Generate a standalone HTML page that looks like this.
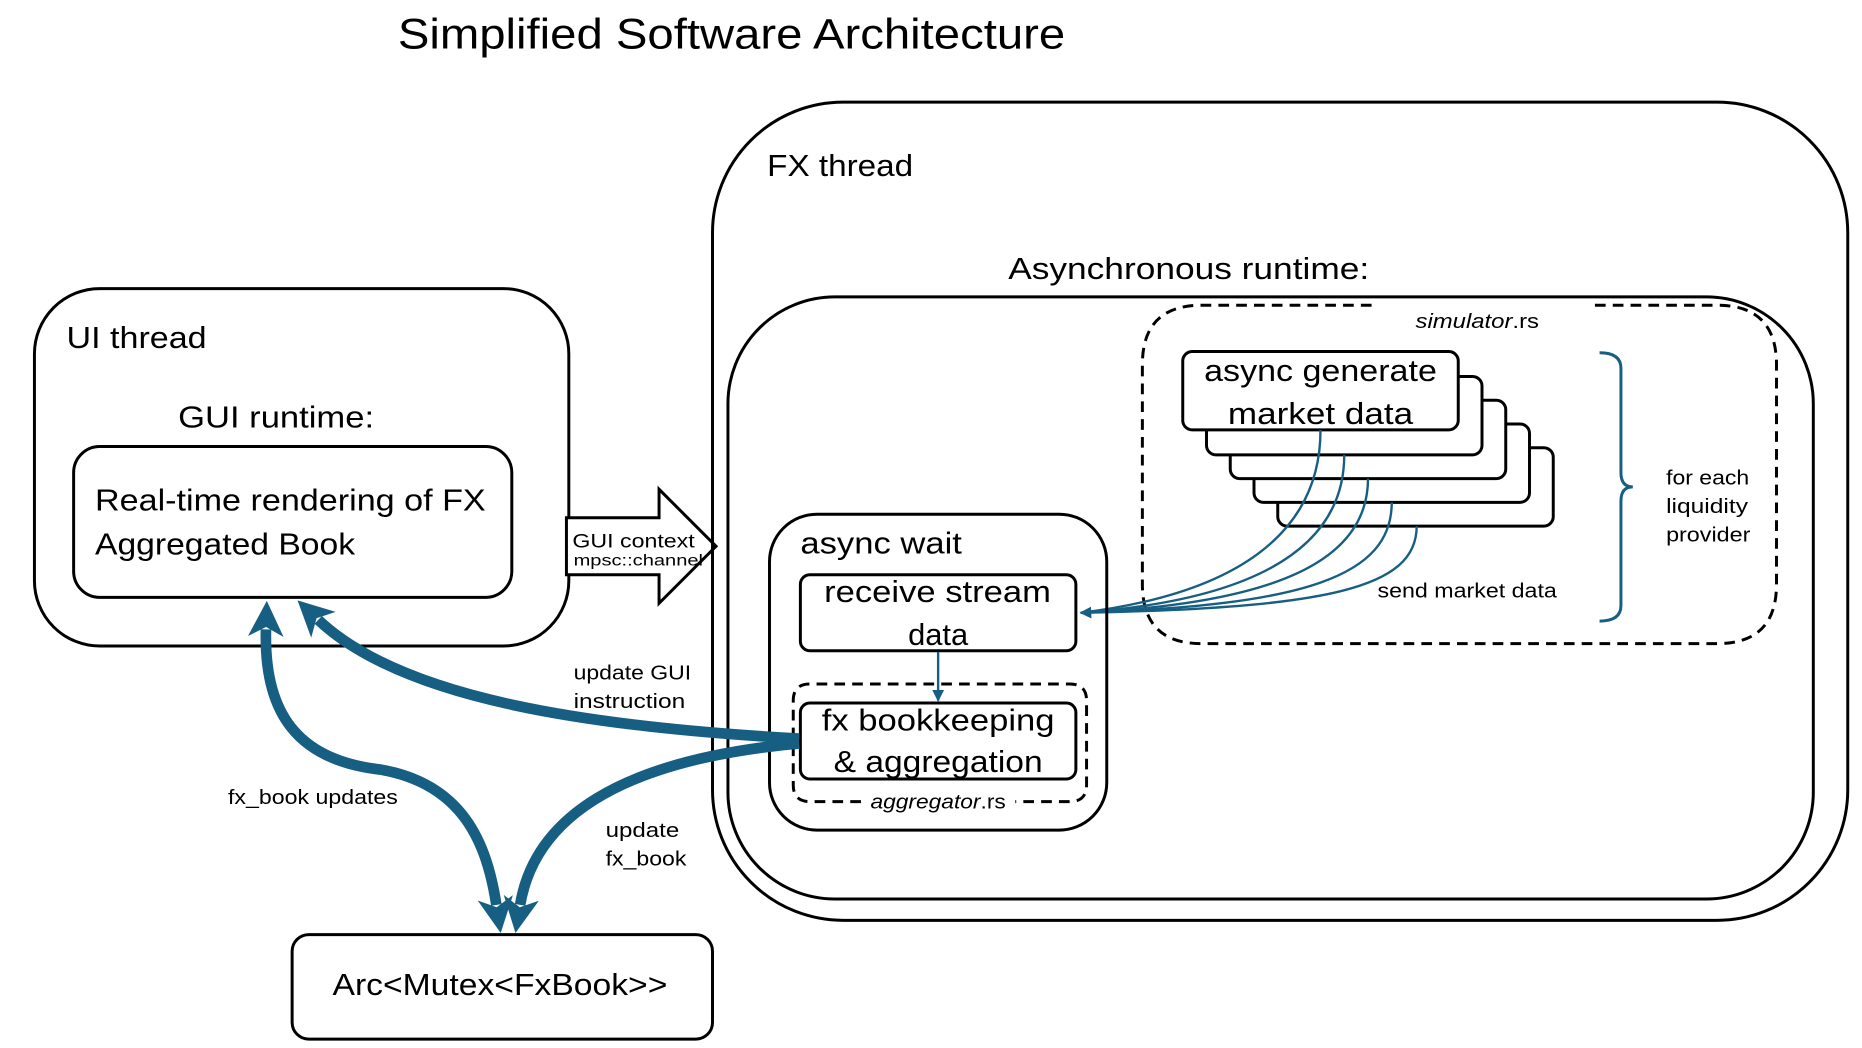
<!DOCTYPE html>
<html><head><meta charset="utf-8"><style>
html,body{margin:0;padding:0;background:#fff;}
svg{display:block;}
text{font-family:"Liberation Sans","DejaVu Sans",sans-serif;fill:#000;}
</style></head><body>
<svg width="1862" height="1048" viewBox="0 0 1568 882.5" xmlns="http://www.w3.org/2000/svg">
<defs>
<marker id="big" markerUnits="userSpaceOnUse" markerWidth="40" markerHeight="40" refX="6" refY="15" orient="auto">
<path d="M0,0 L30,15 L0,30 L8,15 Z" fill="#175f82"/>
</marker>
<marker id="bigs" markerUnits="userSpaceOnUse" markerWidth="40" markerHeight="40" refX="6" refY="15" orient="auto-start-reverse">
<path d="M0,0 L30,15 L0,30 L8,15 Z" fill="#175f82"/>
</marker>
<marker id="sm" markerUnits="userSpaceOnUse" markerWidth="12" markerHeight="12" refX="9" refY="5" orient="auto">
<path d="M0,0 L10,5 L0,10 Z" fill="#175f82"/>
</marker>
</defs>
<text x="335" y="41" font-size="36" textLength="562" lengthAdjust="spacingAndGlyphs">Simplified Software Architecture</text>

<!-- UI thread -->
<rect x="29" y="243" width="450" height="301" rx="55" fill="none" stroke="#000" stroke-width="2.5"/>
<text x="56" y="293" font-size="26" textLength="118" lengthAdjust="spacingAndGlyphs">UI thread</text>
<text x="150" y="360" font-size="26" textLength="165" lengthAdjust="spacingAndGlyphs">GUI runtime:</text>
<rect x="62" y="376" width="369" height="127" rx="22" fill="none" stroke="#000" stroke-width="2.5"/>
<text x="80" y="430" font-size="26" textLength="329" lengthAdjust="spacingAndGlyphs">Real-time rendering of FX</text>
<text x="80" y="467" font-size="26" textLength="219" lengthAdjust="spacingAndGlyphs">Aggregated Book</text>

<!-- block arrow -->
<polygon points="477,436 555,436 555,412 603,460 555,508 555,484 477,484" fill="#fff" stroke="#000" stroke-width="2.5"/>
<text x="482" y="461" font-size="16" textLength="103" lengthAdjust="spacingAndGlyphs">GUI context</text>
<text x="483" y="476" font-size="13" textLength="109" lengthAdjust="spacingAndGlyphs">mpsc::channel</text>

<!-- FX thread -->
<rect x="600" y="86" width="956" height="689" rx="110" fill="none" stroke="#000" stroke-width="2.5"/>
<text x="646" y="148" font-size="26" textLength="123" lengthAdjust="spacingAndGlyphs">FX thread</text>
<text x="849" y="235" font-size="26" textLength="304" lengthAdjust="spacingAndGlyphs">Asynchronous runtime:</text>
<rect x="613" y="250" width="914" height="507" rx="90" fill="none" stroke="#000" stroke-width="2.5"/>

<!-- simulator dashed -->
<path d="M1155,257 L1012,257 Q962,257 962,307 L962,492 Q962,542 1012,542 L1446,542 Q1496,542 1496,492 L1496,307 Q1496,257 1446,257 L1340,257" fill="none" stroke="#000" stroke-width="2.5" stroke-dasharray="9,6"/>
<text x="1192" y="276" font-size="17" textLength="104" lengthAdjust="spacingAndGlyphs"><tspan font-style="italic">simulator</tspan>.rs</text>

<!-- stacked boxes -->
<rect x="1076" y="377" width="232" height="66" rx="8" fill="#fff" stroke="#000" stroke-width="2.5"/>
<rect x="1056" y="357" width="232" height="66" rx="8" fill="#fff" stroke="#000" stroke-width="2.5"/>
<rect x="1036" y="337" width="232" height="66" rx="8" fill="#fff" stroke="#000" stroke-width="2.5"/>
<rect x="1016" y="317" width="232" height="66" rx="8" fill="#fff" stroke="#000" stroke-width="2.5"/>
<rect x="996" y="296" width="232" height="66" rx="8" fill="#fff" stroke="#000" stroke-width="2.5"/>
<text x="1014" y="321" font-size="26" textLength="196" lengthAdjust="spacingAndGlyphs">async generate</text>
<text x="1034" y="357" font-size="26" textLength="156" lengthAdjust="spacingAndGlyphs">market data</text>

<!-- brace -->
<path d="M1347,297 Q1365,297 1365,310 L1365,398 Q1365,410 1375,410 Q1365,410 1365,422 L1365,510 Q1365,523 1347,523" fill="none" stroke="#175f82" stroke-width="2.5"/>
<text x="1403" y="408" font-size="17" textLength="70" lengthAdjust="spacingAndGlyphs">for each</text>
<text x="1403" y="432" font-size="17" textLength="69" lengthAdjust="spacingAndGlyphs">liquidity</text>
<text x="1403" y="456" font-size="17" textLength="71" lengthAdjust="spacingAndGlyphs">provider</text>
<text x="1160" y="503" font-size="17" textLength="151" lengthAdjust="spacingAndGlyphs">send market data</text>

<!-- curves -->
<g fill="none" stroke="#175f82" stroke-width="2">
<path d="M1112,362 C1112,450 1040,500 910,516"/>
<path d="M1132,383 C1132,460 1060,505 910,516"/>
<path d="M1152,403 C1152,470 1080,508 910,516"/>
<path d="M1172,423 C1172,485 1100,510 910,516"/>
<path d="M1193,443 C1193,495 1120,512 910,516" marker-end="url(#sm)"/>
</g>

<!-- async wait -->
<rect x="648" y="433" width="284" height="266" rx="40" fill="none" stroke="#000" stroke-width="2.5"/>
<text x="674" y="466" font-size="26" textLength="136" lengthAdjust="spacingAndGlyphs">async wait</text>
<rect x="674" y="484" width="232" height="64" rx="8" fill="#fff" stroke="#000" stroke-width="2.5"/>
<text x="694" y="507" font-size="26" textLength="191" lengthAdjust="spacingAndGlyphs">receive stream</text>
<text x="790" y="543" font-size="26" text-anchor="middle">data</text>
<path d="M790,549 L790,590" stroke="#175f82" stroke-width="2" marker-end="url(#sm)"/>

<path d="M725,675 L682,675 Q668,675 668,661 L668,590 Q668,576 682,576 L901,576 Q915,576 915,590 L915,661 Q915,675 901,675 L855,675" fill="none" stroke="#000" stroke-width="2.5" stroke-dasharray="9,6"/>
<rect x="674" y="592" width="232" height="64" rx="8" fill="#fff" stroke="#000" stroke-width="2.5"/>
<text x="692" y="615" font-size="26" textLength="196" lengthAdjust="spacingAndGlyphs">fx bookkeeping</text>
<text x="702" y="650" font-size="26" textLength="176" lengthAdjust="spacingAndGlyphs">&amp; aggregation</text>
<text x="733" y="681" font-size="17" textLength="114" lengthAdjust="spacingAndGlyphs"><tspan font-style="italic">aggregator</tspan>.rs</text>

<!-- Arc box -->
<rect x="246" y="787" width="354" height="88" rx="14" fill="none" stroke="#000" stroke-width="2.5"/>
<text x="280" y="838" font-size="26" textLength="282" lengthAdjust="spacingAndGlyphs">Arc&lt;Mutex&lt;FxBook&gt;&gt;</text>

<!-- thick arrows -->
<g fill="none" stroke="#175f82" stroke-width="9">
<path d="M673,622 C500,612 340,590 268,522" marker-end="url(#big)"/>
<path d="M673,626 C520,640 450,690 438,762" marker-end="url(#big)"/>
<path d="M224,530 C222,600 250,640 320,648 C390,660 410,710 418,762" marker-start="url(#bigs)" marker-end="url(#big)"/>
</g>
<text x="483" y="572" font-size="17" textLength="99" lengthAdjust="spacingAndGlyphs">update GUI</text>
<text x="483" y="596" font-size="17" textLength="94" lengthAdjust="spacingAndGlyphs">instruction</text>
<text x="192" y="677" font-size="17" textLength="143" lengthAdjust="spacingAndGlyphs">fx_book updates</text>
<text x="510" y="705" font-size="17" textLength="62" lengthAdjust="spacingAndGlyphs">update</text>
<text x="510" y="729" font-size="17" textLength="68" lengthAdjust="spacingAndGlyphs">fx_book</text>
</svg>
</body></html>
